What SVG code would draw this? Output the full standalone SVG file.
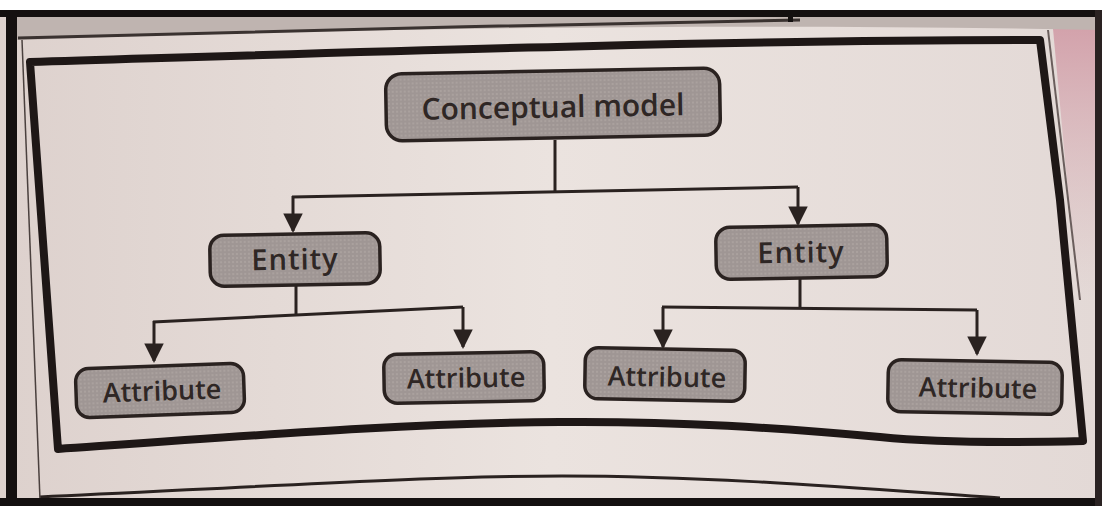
<svg xmlns="http://www.w3.org/2000/svg" width="1102" height="506" viewBox="0 0 1102 506">
  <defs>
    <style>
      .node rect { fill: url(#dots); stroke: #2a2220; stroke-width: 3.5; }
      .node text { font-family: "Open Sans", "DejaVu Sans", sans-serif; font-weight: 600; fill: #2f2725; text-anchor: middle; dominant-baseline: central; }
      .edge { fill: none; stroke: #2a2220; stroke-width: 3; }
      .frame { fill: none; stroke: #1e1716; stroke-linejoin: round; }
    </style>
    <pattern id="dots" width="4" height="4" patternUnits="userSpaceOnUse">
      <rect width="4" height="4" fill="#9f9694"/>
      <circle cx="1" cy="1" r="0.8" fill="#b8afac"/>
    </pattern>
    <linearGradient id="page" x1="0" y1="0" x2="1" y2="0">
      <stop offset="0" stop-color="#ddd1cd"/>
      <stop offset="0.5" stop-color="#ebe3df"/>
      <stop offset="1" stop-color="#e3d9d6"/>
    </linearGradient>
    <linearGradient id="pink" x1="0" y1="0" x2="0" y2="1">
      <stop offset="0" stop-color="#d29fa9"/>
      <stop offset="1" stop-color="#d9b8bd" stop-opacity="0"/>
    </linearGradient>
    <marker id="arrow" viewBox="0 0 10 10" refX="9" refY="5" markerWidth="6.5" markerHeight="6.5" markerUnits="strokeWidth" orient="auto">
      <path d="M0,0 L10,5 L0,10 Z" fill="#2a2220"/>
    </marker>
  </defs>

  <!-- photographed page -->
  <rect width="1102" height="506" fill="#ffffff"/>
  <rect x="0" y="10" width="1102" height="496" fill="url(#page)"/>
  <!-- neighbouring page at the right -->
  <path d="M1052 18 L1095 18 L1095 300 L1078 300 Z" fill="url(#pink)"/>
  <!-- grey strip along the top with the previous heading -->
  <path d="M15 17 L1100 17 L1100 30 C 700 22, 300 30, 15 40 Z" fill="#bfb4b0"/>
  <path d="M18 38 C 250 32, 550 24, 800 20" fill="none" stroke="#3a3230" stroke-width="3"/>
  <!-- lower page curve -->
  <path d="M40 497 C 200 490, 420 476, 562 476 C 720 476, 880 490, 1000 498" fill="none" stroke="#2a2220" stroke-width="3"/>
  <!-- inner page edge on the left -->
  <path d="M22 40 L 40 500" fill="none" stroke="#4a403e" stroke-width="1.5"/>
  <!-- page edge on the right -->
  <path d="M1048 30 L 1080 300" fill="none" stroke="#6a5e5c" stroke-width="2"/>

  <!-- photo border -->
  <rect x="0" y="10" width="1102" height="7" fill="#141010"/>
  <rect x="6" y="10" width="11" height="496" fill="#141010"/>
  <rect x="0" y="498" width="1102" height="8" fill="#141010"/>
  <rect x="1095" y="10" width="7" height="496" fill="#2a2222"/>
  <rect x="788" y="14" width="5" height="8" fill="#141010"/>

  <!-- warped outer box -->
  <path class="frame" stroke-width="8" d="M30 62 C 300 54, 700 40, 1040 40 L 1060 200 L 1083 441 C 1000 443, 930 442, 880 437 C 780 428, 680 421, 560 422 C 420 423, 300 432, 58 449 Z" fill="#ebe3df"/>

  <g id="connectors">
    <path class="edge" d="M555 140 L555 191"/>
    <path class="edge" d="M292 197 L798 187"/>
    <path class="edge" marker-end="url(#arrow)" d="M293 196 L293 231"/>
    <path class="edge" marker-end="url(#arrow)" d="M798 187 L798 224"/>

    <path class="edge" d="M296 285 L296 315"/>
    <path class="edge" d="M153 322 L463 307"/>
    <path class="edge" marker-end="url(#arrow)" d="M154 321 L154 361"/>
    <path class="edge" marker-end="url(#arrow)" d="M463 307 L463 347"/>

    <path class="edge" d="M800 278 L800 308"/>
    <path class="edge" d="M662 307 L977 310"/>
    <path class="edge" marker-end="url(#arrow)" d="M663 307 L663 347"/>
    <path class="edge" marker-end="url(#arrow)" d="M977 310 L977 354"/>
  </g>

  <g id="conceptual-model" class="node" transform="rotate(-1 553 105)">
    <rect x="386" y="71" width="334" height="67" rx="16"/>
    <text x="553" y="106" font-size="30">Conceptual model</text>
  </g>

  <g id="entity-left" class="node" transform="rotate(-1 295 259)">
    <rect x="210" y="234" width="170" height="51" rx="14"/>
    <text x="295" y="258" font-size="29" letter-spacing="1">Entity</text>
  </g>

  <g id="entity-right" class="node" transform="rotate(-1 801 252)">
    <rect x="716" y="226" width="171" height="52" rx="14"/>
    <text x="801" y="251" font-size="29" letter-spacing="1">Entity</text>
  </g>

  <g id="attribute-1" class="node" transform="rotate(-2 160 390)">
    <rect x="76" y="366" width="168" height="49" rx="13"/>
    <text x="162" y="390" font-size="27">Attribute</text>
  </g>

  <g id="attribute-2" class="node" transform="rotate(-1 464 378)">
    <rect x="384" y="353" width="160" height="49" rx="13"/>
    <text x="466" y="377" font-size="27">Attribute</text>
  </g>

  <g id="attribute-3" class="node" transform="rotate(1 665 374)">
    <rect x="585" y="349" width="160" height="51" rx="13"/>
    <text x="667" y="376" font-size="27">Attribute</text>
  </g>

  <g id="attribute-4" class="node" transform="rotate(1 975 387)">
    <rect x="888" y="361" width="174" height="52" rx="13"/>
    <text x="978" y="387" font-size="27">Attribute</text>
  </g>
</svg>
